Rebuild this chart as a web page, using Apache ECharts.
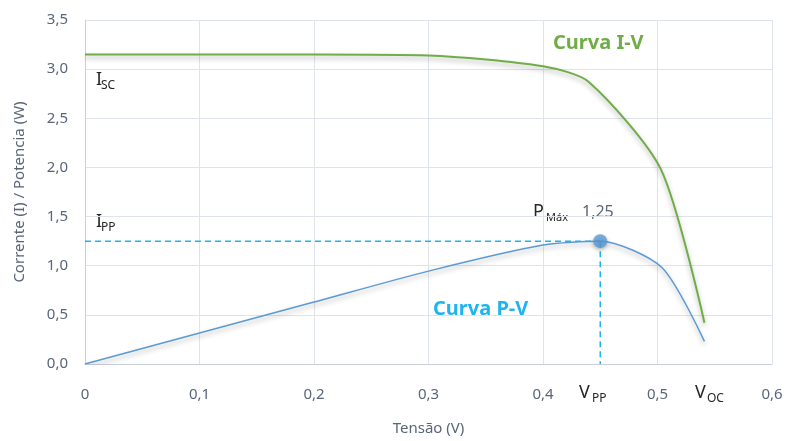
<!DOCTYPE html>
<html>
<head>
<meta charset="utf-8">
<script src="https://cdn.jsdelivr.net/npm/echarts@6/dist/echarts.min.js"></script>
<style>html,body{margin:0;padding:0;background:#fff;}#c{width:786px;height:441px;}</style>
</head>
<body>
<div id="c"></div>
<script>
// Data
const voltIV = [0, 0.1, 0.2, 0.3, 0.4, 0.44, 0.503, 0.541];
const currIV = [3.15, 3.15, 3.15, 3.14, 3.03, 2.87, 1.98, 0.42];
const voltPV = [0, 0.1, 0.2, 0.3, 0.4, 0.45, 0.504, 0.541];
const powerPV = [0, 0.315, 0.63, 0.945, 1.21, 1.25, 0.98, 0.23];
const vPP = 0.45;
const pMax = 1.25;
const xTicks = ['0', '0,1', '0,2', '0,3', '0,4', '0,5', '0,6'];
const yTicks = ['0,0', '0,5', '1,0', '1,5', '2,0', '2,5', '3,0', '3,5'];

const FONT = '"Noto Sans", "Open Sans", sans-serif';
const TICK = '#596578';
const DARK = '#262626';

const chart = echarts.init(document.getElementById('c'), null, {renderer: 'canvas'});

function pair(xs, ys) { return xs.map((x, i) => [x, ys[i]]); }

function txt(x, y, text, size, color, weight) {
  return {
    type: 'text', x: x, y: y, silent: true,
    style: {
      text: text, fill: color, fontSize: size, fontFamily: FONT,
      fontWeight: weight || 'normal', textAlign: 'left', textVerticalAlign: 'middle', verticalAlign: 'middle'
    }
  };
}

const option = {
  backgroundColor: '#fff',
  animation: false,
  grid: {left: 85, right: 14, top: 20, bottom: 69, containLabel: false},
  xAxis: {
    type: 'value', min: 0, max: 0.6, interval: 0.1,
    name: 'Tensão (V)', nameLocation: 'middle', nameGap: 57,
    nameTextStyle: {color: TICK, fontSize: 15, fontFamily: FONT},
    axisLine: {show: true, lineStyle: {color: '#c9ced9', width: 1}},
    axisTick: {show: false},
    axisLabel: {color: TICK, fontSize: 15, fontFamily: FONT, margin: 23,
      formatter: (v) => xTicks[Math.round(v * 10)]},
    splitLine: {show: true, lineStyle: {color: '#dfe3ea', width: 1}}
  },
  yAxis: {
    type: 'value', min: 0, max: 3.5, interval: 0.5,
    name: 'Corrente (I) / Potencia (W)', nameLocation: 'middle', nameGap: 58,
    nameTextStyle: {color: TICK, fontSize: 15, fontFamily: FONT},
    axisLine: {show: true, lineStyle: {color: '#c9ced9', width: 1}},
    axisTick: {show: false},
    axisLabel: {color: TICK, fontSize: 15, fontFamily: FONT, margin: 17,
      formatter: (v) => yTicks[Math.round(v * 2)]},
    splitLine: {show: true, lineStyle: {color: '#dfe3ea', width: 1}}
  },
  series: [
    {
      name: 'Curva I-V', type: 'line', data: pair(voltIV, currIV),
      smooth: 0.25, showSymbol: false, symbol: 'none',
      lineStyle: {color: '#70ad47', width: 2, shadowColor: 'rgba(0,0,0,0.3)', shadowBlur: 5, shadowOffsetY: 3}
    },
    {
      name: 'Curva P-V', type: 'line', data: pair(voltPV, powerPV),
      smooth: 0.25, showSymbol: false, symbol: 'none',
      lineStyle: {color: '#5b9bd5', width: 1.5, shadowColor: 'rgba(0,0,0,0.3)', shadowBlur: 5, shadowOffsetY: 3}
    },
    {
      name: 'Ipp', type: 'line', data: [[0, pMax], [vPP, pMax]], symbol: 'none',
      lineStyle: {color: '#1fb4f0', width: 1.5, type: [6, 4]}, z: 1
    },
    {
      name: 'Vpp', type: 'line', data: [[vPP, pMax], [vPP, 0]], symbol: 'none',
      lineStyle: {color: '#1fb4f0', width: 1.5, type: [6, 4]}, z: 1
    },
    {
      name: 'Pmax', type: 'scatter', data: [[vPP, pMax]], symbolSize: 14,
      itemStyle: {color: '#5b9bd5', shadowColor: 'rgba(0,0,0,0.35)', shadowBlur: 4, shadowOffsetY: 2}, z: 5
    }
  ],
  graphic: [
    txt(553, 43, 'Curva I-V', 20, '#70ad47', 'bold'),
    txt(433, 309, 'Curva P-V', 20, '#1fb4f0', 'bold'),
    txt(96, 80, 'I', 18, DARK), txt(101, 86, 'SC', 12, DARK),
    txt(96, 222, 'I', 18, DARK), txt(101, 228, 'PP', 12, DARK),
    txt(533, 212, 'P', 18, DARK), txt(546, 218, 'Máx', 11, DARK), txt(582, 212, '1,25', 16, TICK),
    txt(579, 393, 'V', 18, DARK), txt(592, 399, 'PP', 12, DARK),
    txt(695, 393, 'V', 18, DARK), txt(707, 399, 'OC', 12, DARK)
  ]
};
chart.setOption(option);
</script>
</body>
</html>
